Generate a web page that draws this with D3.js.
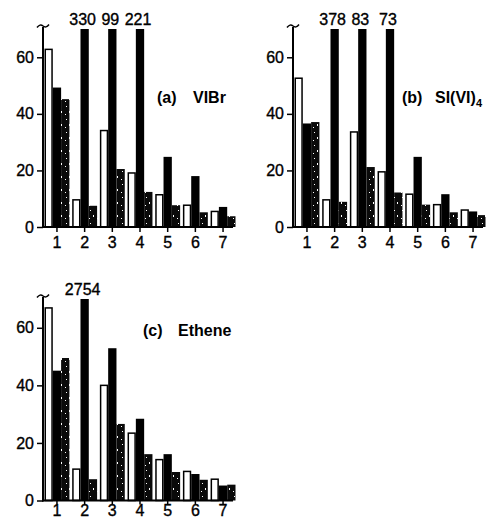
<!DOCTYPE html>
<html>
<head>
<meta charset="utf-8">
<script src="https://cdn.jsdelivr.net/npm/d3@7/dist/d3.min.js"></script>
<style>
  html, body { margin: 0; padding: 0; background: #fff; }
  svg { display: block; }
  text { font-family: Arial, "Liberation Sans", Helvetica, sans-serif; fill: #000; }
  .num { stroke: #000; stroke-width: 0.35px; }
</style>
</head>
<body>
<svg id="chart" width="501" height="520"></svg>
<script>
// ---------------- data ----------------
const categories = [1, 2, 3, 4, 5, 6, 7];
const seriesNames = ["open", "solid", "stippled"];
const yTicks = [0, 20, 40, 60];
const yBreak = 70; // values above this are cut and labelled

const vibrOpen     = [62.8, 9.6, 34.1, 19.1, 11.4, 7.7, 5.5];
const vibrSolid    = [49.3, 330, 99, 221, 24.8, 18.0, 7.1];
const vibrStippled = [45.2, 7.5, 20.5, 12.4, 7.7, 5.2, 3.8];

const siOpen       = [52.6, 9.6, 33.6, 19.5, 11.6, 7.9, 6.0];
const siSolid      = [36.6, 378, 83, 73, 24.8, 11.6, 5.5];
const siStippled   = [37.1, 8.9, 21.2, 12.2, 7.9, 5.2, 4.2];

const ethOpen      = [66.9, 10.9, 40.0, 23.4, 14.2, 10.1, 7.4];
const ethSolid     = [45.1, 2754, 52.9, 28.4, 16.1, 9.2, 5.2];
const ethStippled  = [49.5, 7.4, 26.6, 16.1, 9.9, 7.2, 5.5];

const panelLabels = ["(a)", "(b)", "(c)"];
const panelNames  = ["VIBr", "SI(VI)", "Ethene"];

// ---------------- layout ----------------
const panels = [
  { x0: 43,  xEnd: 233, yZero: 227,   yTop: 29,  series: [vibrOpen, vibrSolid, vibrStippled],
    lab: panelLabels[0], name: panelNames[0], sub: null, labX: 157, nameX: 193, labY: 103, tick: 5, pad: 5 },
  { x0: 293, xEnd: 483, yZero: 227,   yTop: 29,  series: [siOpen, siSolid, siStippled],
    lab: panelLabels[1], name: panelNames[1], sub: "4", labX: 402, nameX: 435, labY: 103, tick: 5, pad: 5 },
  { x0: 43,  xEnd: 233, yZero: 500.5, yTop: 299, series: [ethOpen, ethSolid, ethStippled],
    lab: panelLabels[2], name: panelNames[2], sub: null, labX: 143, nameX: 178, labY: 336, tick: 4, pad: 0.5 }
];

const svg = d3.select("#chart");
svg.append("rect").attr("width", 501).attr("height", 520).attr("fill", "#fff");

// stipple pattern (dark with sparse white specks)
const defs = svg.append("defs");
const pat = defs.append("pattern").attr("id", "stipple")
  .attr("patternUnits", "userSpaceOnUse").attr("width", 8).attr("height", 13);
pat.append("rect").attr("width", 8).attr("height", 13).attr("fill", "#0a0a0a");
[[2, 2, 1, 1], [5, 7, 1, 2], [1, 10, 1, 1]].forEach(([a, b, w, h]) =>
  pat.append("rect").attr("x", a).attr("y", b).attr("width", w).attr("height", h).attr("fill", "#fff"));

panels.forEach(p => {
  const g = svg.append("g");
  const x = d3.scaleBand().domain(categories)
    .range([p.x0 + 1.5, p.x0 + 1.5 + 191]).paddingInner(0.1).paddingOuter(0);
  const xs = d3.scaleBand().domain(seriesNames).range([0, x.bandwidth()]);
  const y = d3.scaleLinear().domain([0, yBreak]).range([p.yZero, p.yTop]);

  const rows = [];
  categories.forEach((c, i) => seriesNames.forEach((s, k) => rows.push({ c, s, v: p.series[k][i] })));

  g.selectAll("rect.bar").data(rows).join("rect")
    .attr("class", "bar")
    .attr("x", d => x(d.c) + xs(d.s) + (d.s === "open" ? 0.75 : 0))
    .attr("width", d => xs.bandwidth() - (d.s === "open" ? 1.5 : 0))
    .attr("y", d => y(Math.min(d.v, yBreak)))
    .attr("height", d => y(0) - y(Math.min(d.v, yBreak)))
    .attr("fill", d => d.s === "open" ? "#fff" : d.s === "solid" ? "#000" : "url(#stipple)")
    .attr("stroke", d => d.s === "open" ? "#000" : "none")
    .attr("stroke-width", 1.5);

  // labels of cut bars
  g.selectAll("text.cut").data(rows.filter(d => d.v > yBreak)).join("text")
    .attr("class", "cut num")
    .attr("x", d => x(d.c) + xs(d.s) + xs.bandwidth() / 2 - 2)
    .attr("y", p.yTop - 4)
    .attr("text-anchor", "middle")
    .style("font-size", "16px")
    .text(d => d.v);

  // y axis
  const ya = g.append("g").attr("transform", `translate(${p.x0},0)`)
    .call(d3.axisLeft(y).tickValues(yTicks).tickSize(6).tickPadding(3).tickFormat(d3.format("d")));
  ya.select(".domain").remove();
  ya.selectAll(".tick line").attr("stroke", "#000").attr("stroke-width", 1.5);
  ya.selectAll(".tick text").attr("class", "num").style("font-size", "16px")
    .style("font-family", "Arial, 'Liberation Sans', sans-serif");

  // x axis
  const xa = g.append("g").attr("transform", `translate(0,${p.yZero})`)
    .call(d3.axisBottom(x).tickSize(p.tick).tickPadding(p.pad));
  xa.select(".domain").remove();
  xa.selectAll(".tick line").attr("stroke", "#000").attr("stroke-width", 1.5);
  xa.selectAll(".tick text").attr("class", "num").style("font-size", "16px")
    .style("font-family", "Arial, 'Liberation Sans', sans-serif");

  // axis lines
  g.append("line").attr("x1", p.x0).attr("x2", p.x0).attr("y1", p.yZero + 1).attr("y2", p.yTop - 2)
    .attr("stroke", "#000").attr("stroke-width", 2);
  g.append("line").attr("x1", p.x0 - 1).attr("x2", p.xEnd).attr("y1", p.yZero).attr("y2", p.yZero)
    .attr("stroke", "#000").attr("stroke-width", 2);
  // axis break squiggle
  const t = p.yTop - 3;
  g.append("path")
    .attr("d", `M${p.x0 - 6},${t + 1.5} Q${p.x0 - 3},${t - 2.5} ${p.x0},${t} Q${p.x0 + 3},${t + 2.5} ${p.x0 + 6},${t - 1.5}`)
    .attr("fill", "none").attr("stroke", "#000").attr("stroke-width", 1.5);

  // panel label
  g.append("text").attr("x", p.labX).attr("y", p.labY)
    .style("font-size", "16px").style("font-weight", "bold").text(p.lab);
  const nm = g.append("text").attr("x", p.nameX).attr("y", p.labY)
    .style("font-size", "16px").style("font-weight", "bold").text(p.name);
  if (p.sub) {
    nm.append("tspan").attr("dy", 4).style("font-size", "11px").text(p.sub);
  }
});
</script>
</body>
</html>
